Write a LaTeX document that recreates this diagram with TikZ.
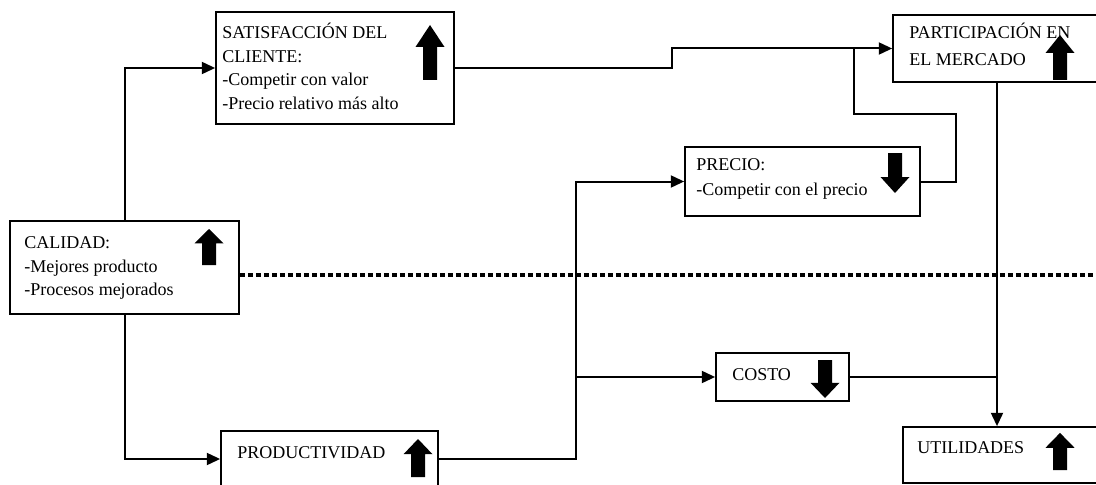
\documentclass[tikz,border=0pt]{standalone}
\usepackage{fontspec}
\setmainfont{Liberation Serif}
\usetikzlibrary{arrows.meta,fit}
\begin{document}
\begin{tikzpicture}[x=0.75pt,y=-0.75pt,
  box/.style={draw, line width=1.3pt, inner sep=0pt, rectangle},
  lbl/.style={anchor=base west, inner sep=0pt, font=\fontsize{13.5}{16}\selectfont},
  link/.style={line width=1.5pt},
  arr/.style={link, -{Triangle[length=10pt,width=9pt]}},
  sep/.style={line width=2.6pt, dash pattern=on 3.6pt off 2.4pt},
  upblk/.pic={\fill (0,-20) -- (14.5,-4) -- (7,-4) -- (7,20) -- (-7,20) -- (-7,-4) -- (-14.5,-4) -- cycle;},
  downblk/.pic={\fill (0,20) -- (14.5,4) -- (7,4) -- (7,-20) -- (-7,-20) -- (-7,4) -- (-14.5,4) -- cycle;}]
\useasboundingbox (0,0) rectangle (1096,485);
\fill[white] (0,0) rectangle (1096,485);
\clip (0,0) rectangle (1096,485);

% boxes
\node[box, fit={(216,12) (454,124)}] (sat) {};
\node[box, fit={(893,15) (1101,82)}] (part) {};
\node[box, fit={(685,147) (920,216)}] (prec) {};
\node[box, fit={(10,221) (239,314)}] (cal) {};
\node[box, fit={(716,353) (849,401)}] (cost) {};
\node[box, fit={(903,427) (1101,483)}] (util) {};
\node[box, fit={(221,431) (438,487)}] (prod) {};

% labels
\node[lbl] (sat1) at (222,39) {SATISFACCIÓN DEL};
\node[lbl] (sat2) at (222,63) {CLIENTE:};
\node[lbl] (sat3) at (222,86) {-Competir con valor};
\node[lbl] (sat4) at (222,109) {-Precio relativo más alto};
\node[lbl] (part1) at (909,39) {PARTICIPACIÓN EN};
\node[lbl] (part2) at (909,65) {EL MERCADO};
\node[lbl] (prec1) at (696,171) {PRECIO:};
\node[lbl] (prec2) at (696,195) {-Competir con el precio};
\node[lbl] (cal1) at (24,248) {CALIDAD:};
\node[lbl] (cal2) at (24,272) {-Mejores producto};
\node[lbl] (cal3) at (24,295) {-Procesos mejorados};
\node[lbl] (cost1) at (732,380) {COSTO};
\node[lbl] (util1) at (917,453) {UTILIDADES};
\node[lbl] (prod1) at (237,458) {PRODUCTIVIDAD};

% trend arrows
\pic[yscale=1.375] at (430,52.5) {upblk};
\pic[yscale=1.125] at (1060,57.5) {upblk};
\pic at (895,173) {downblk};
\pic[yscale=0.9] at (209,247) {upblk};
\pic[yscale=0.95] at (825,379) {downblk};
\pic[yscale=0.93] at (1060,451.5) {upblk};
\pic[yscale=0.95] at (418,458) {upblk};

% connectors
\coordinate (stepx) at (672,0);
\coordinate (riser) at (576,0);
\coordinate (loopR) at (956,114);
\coordinate (loopL) at (854,114);
\coordinate (sepend) at (1096,275);

\draw[arr] (cal.north) |- (sat.west);
\draw[arr] (cal.south) |- (prod.west);
\draw[arr] (sat.east) -- (stepx |- sat.east) |- (part.west);
\draw[arr] (prod.east) -- (riser |- prod.east) |- (prec.west);
\draw[arr] (riser |- cost.west) -- (cost.west);
\draw[link] (prec.east) -| (loopR) -- (loopL) -- (loopL |- part.west);
\draw[link] (cost.east) -- (cost.east -| part.south);
\draw[arr] (part.south) -- (part.south |- util.north);
\draw[sep] (cal.east |- sepend) -- (sepend);
\end{tikzpicture}
\end{document}
